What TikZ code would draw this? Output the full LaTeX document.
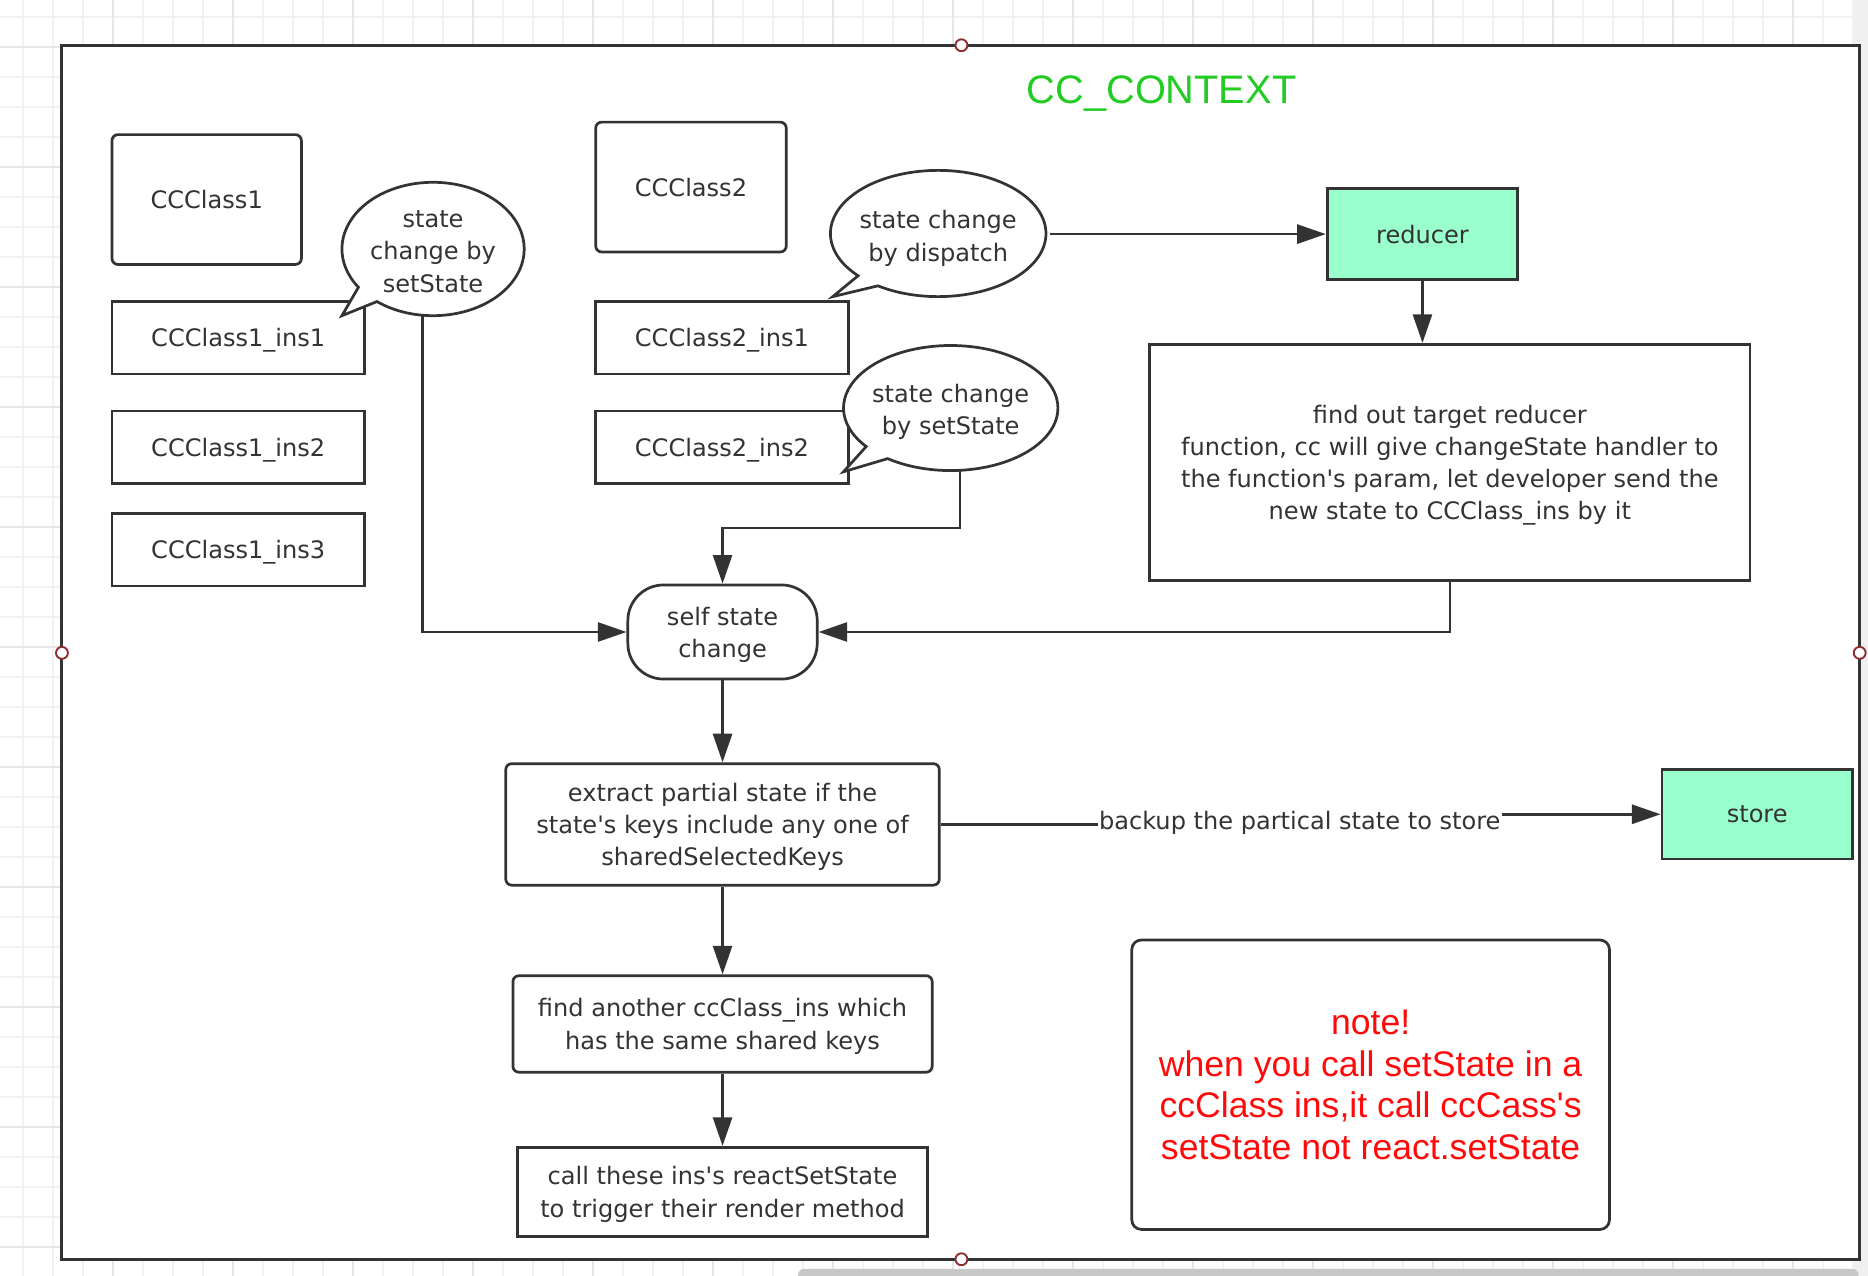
\documentclass[tikz,border=0pt]{standalone}
\usepackage{fontspec}
\setmainfont{DejaVu Sans}[Ligatures=TeXOff]
\newfontfamily\headfont{Liberation Sans}[Ligatures=TeXOff]
\usetikzlibrary{shapes.geometric, arrows.meta}
\definecolor{darkline}{HTML}{333333}
\definecolor{mintgreen}{HTML}{99FFCC}
\definecolor{titlegreen}{HTML}{22CC22}
\definecolor{notered}{HTML}{FF0A0A}
\definecolor{portred}{HTML}{8B2E2E}
\definecolor{gridthin}{HTML}{F2F2F2}
\definecolor{gridthick}{HTML}{E6E6E6}
\definecolor{stripgray}{HTML}{F0F0F0}
\definecolor{scrollgray}{HTML}{C8C8C8}

\begin{document}
\begin{tikzpicture}[x=0.02cm, y=-0.02cm,
every node/.style={align=center, text=darkline, text depth=0pt, font=\fontsize{11.5}{15.4}\selectfont},
box/.style={draw=darkline, line width=1.3pt, fill=white, inner sep=0pt},
roundbox/.style={box, rounded corners=0.1cm},
mint/.style={box, fill=mintgreen},
bubble/.style={shape=ellipse, inner sep=0pt},
flow/.style={draw=darkline, line width=1.2pt, -{Triangle[length=0.48cm, width=0.32cm]}},
plain/.style={draw=darkline, line width=1.2pt},
port/.style={circle, draw=portred, line width=0.9pt, fill=white, minimum size=0.2cm, inner sep=0pt}]
%================================================================
%	Background
\useasboundingbox (0,0) rectangle (1568,1071);
\clip (0,0) rectangle (1568,1071);

\foreach \k in {0,...,61} \draw[gridthin, line width=0.6pt] (19.3+25.18*\k,0) -- (19.3+25.18*\k,1071);
\foreach \k in {0,...,42} \draw[gridthin, line width=0.6pt] (0,14.3+25.18*\k) -- (1568,14.3+25.18*\k);
\foreach \k in {3,7,...,59} \draw[gridthick, line width=0.8pt] (19.3+25.18*\k,0) -- (19.3+25.18*\k,1071);
\foreach \k in {1,5,...,41} \draw[gridthick, line width=0.8pt] (0,14.3+25.18*\k) -- (1568,14.3+25.18*\k);

\fill[stripgray] (1555,0) rectangle (1568,1071);
\fill[scrollgray, rounded corners=0.1cm] (670,1065) rectangle (1560,1082);

\fill[white] (52,38) rectangle (1561,1057);
\draw[darkline, line width=1.4pt] (52,38) rectangle (1561,1057);

%================================================================
%	Boxes
\node[text=titlegreen, font=\headfont\fontsize{19}{23}\selectfont] (title) at (975,75) {CC\_CONTEXT};

\node[roundbox, minimum width=3.18cm, minimum height=2.18cm] (c1) at (173.5,167.5) {CCClass1};
\node[box, minimum width=4.24cm, minimum height=1.22cm] (c1i1) at (200,283.5) {CCClass1\_ins1};
\node[box, minimum width=4.24cm, minimum height=1.22cm] (c1i2) at (200,375.5) {CCClass1\_ins2};
\node[box, minimum width=4.24cm, minimum height=1.22cm] (c1i3) at (200,461.5) {CCClass1\_ins3};

\node[roundbox, minimum width=3.2cm, minimum height=2.18cm] (c2) at (580,157) {CCClass2};
\node[box, minimum width=4.24cm, minimum height=1.22cm] (c2i1) at (606,283.5) {CCClass2\_ins1};
\node[box, minimum width=4.24cm, minimum height=1.22cm] (c2i2) at (606,375.5) {CCClass2\_ins2};

\node[mint, minimum width=3.2cm, minimum height=1.52cm] (reducer) at (1194,196.5) {reducer};
\node[box, minimum width=10.08cm, minimum height=3.96cm] (big) at (1217,388) {find out target reducer\\ function, cc will give changeState handler to\\the function's param, let developer send the\\new state to CCClass\_ins by it};

\node[box, rounded corners=0.6cm, minimum width=3.18cm, minimum height=1.58cm] (self) at (606.5,530.5) {self state\\change};
\node[roundbox, minimum width=7.28cm, minimum height=2.04cm] (extract) at (606.5,692) {extract partial state if the\\state's keys include any one of\\sharedSelectedKeys};
\node[roundbox, minimum width=7.04cm, minimum height=1.62cm] (find) at (606.5,859.5) {find another ccClass\_ins which\\has the same shared keys};
\node[box, minimum width=6.88cm, minimum height=1.5cm] (call) at (606.5,1000.5) {call these ins's reactSetState\\to trigger their render method};

\node[mint, minimum width=3.2cm, minimum height=1.5cm] (store) at (1475,683.5) {store};
\node[box, rounded corners=0.16cm, minimum width=8.02cm, minimum height=4.86cm, text=notered, font=\headfont\fontsize{17}{20}\selectfont] (note) at (1150.5,910.5) {note!\\when you call setState in a\\ccClass ins,it call ccCass's\\ setState not react.setState};

%----------------------------------------------------------------
%	Bubbles
\draw[box] (363.5,209) ++(232:1.53cm and 1.12cm) arc[start angle=232, end angle=575, x radius=1.53cm, y radius=1.12cm] -- (287,265) -- cycle;
\draw[box] (787.5,196) ++(236:1.81cm and 1.06cm) arc[start angle=236, end angle=582, x radius=1.81cm, y radius=1.06cm] -- (699,249) -- cycle;
\draw[box] (798,342.5) ++(234:1.8cm and 1.05cm) arc[start angle=234, end angle=578, x radius=1.8cm, y radius=1.05cm] -- (708,396) -- cycle;

\node[bubble, minimum width=3.06cm, minimum height=2.24cm] (b1) at (363.5,211) {state\\change by\\setState};
\node[bubble, minimum width=3.62cm, minimum height=2.12cm] (b2) at (787.5,198) {state change\\by dispatch};
\node[bubble, minimum width=3.6cm, minimum height=2.1cm] (b3) at (798,343.5) {state change\\by setState};

\node[inner sep=0.5pt] (backup) at (1091,689) {backup the partical state to store};

%================================================================
%	Lines
\draw[flow] ([yshift=0.04cm]b1.261) |- (self.west);
\draw[flow] ([xshift=0.16cm, yshift=0.02cm]b3.south) -- ++(0,48) -| (self.north);
\draw[flow] (b2.east |- reducer.west) -- (reducer.west);
\draw[flow] (reducer.south) -- (reducer.south |- big.north);
\draw[flow] (big.south) |- (self.east);
\draw[flow] (self.south) -- (extract.north);
\draw[plain] (extract.east) -- (extract.east -| backup.west);
\draw[flow] (backup.east |- store.west) -- (store.west);
\draw[flow] (extract.south) -- (find.north);
\draw[flow] (find.south) -- (call.north);

%----------------------------------------------------------------
\node[port] (ptop) at (807,38) {};
\node[port] (pleft) at (52,548) {};
\node[port] (pright) at (1561,548) {};
\node[port] (pbottom) at (807,1057) {};
%================================================================
\end{tikzpicture}
\end{document}
